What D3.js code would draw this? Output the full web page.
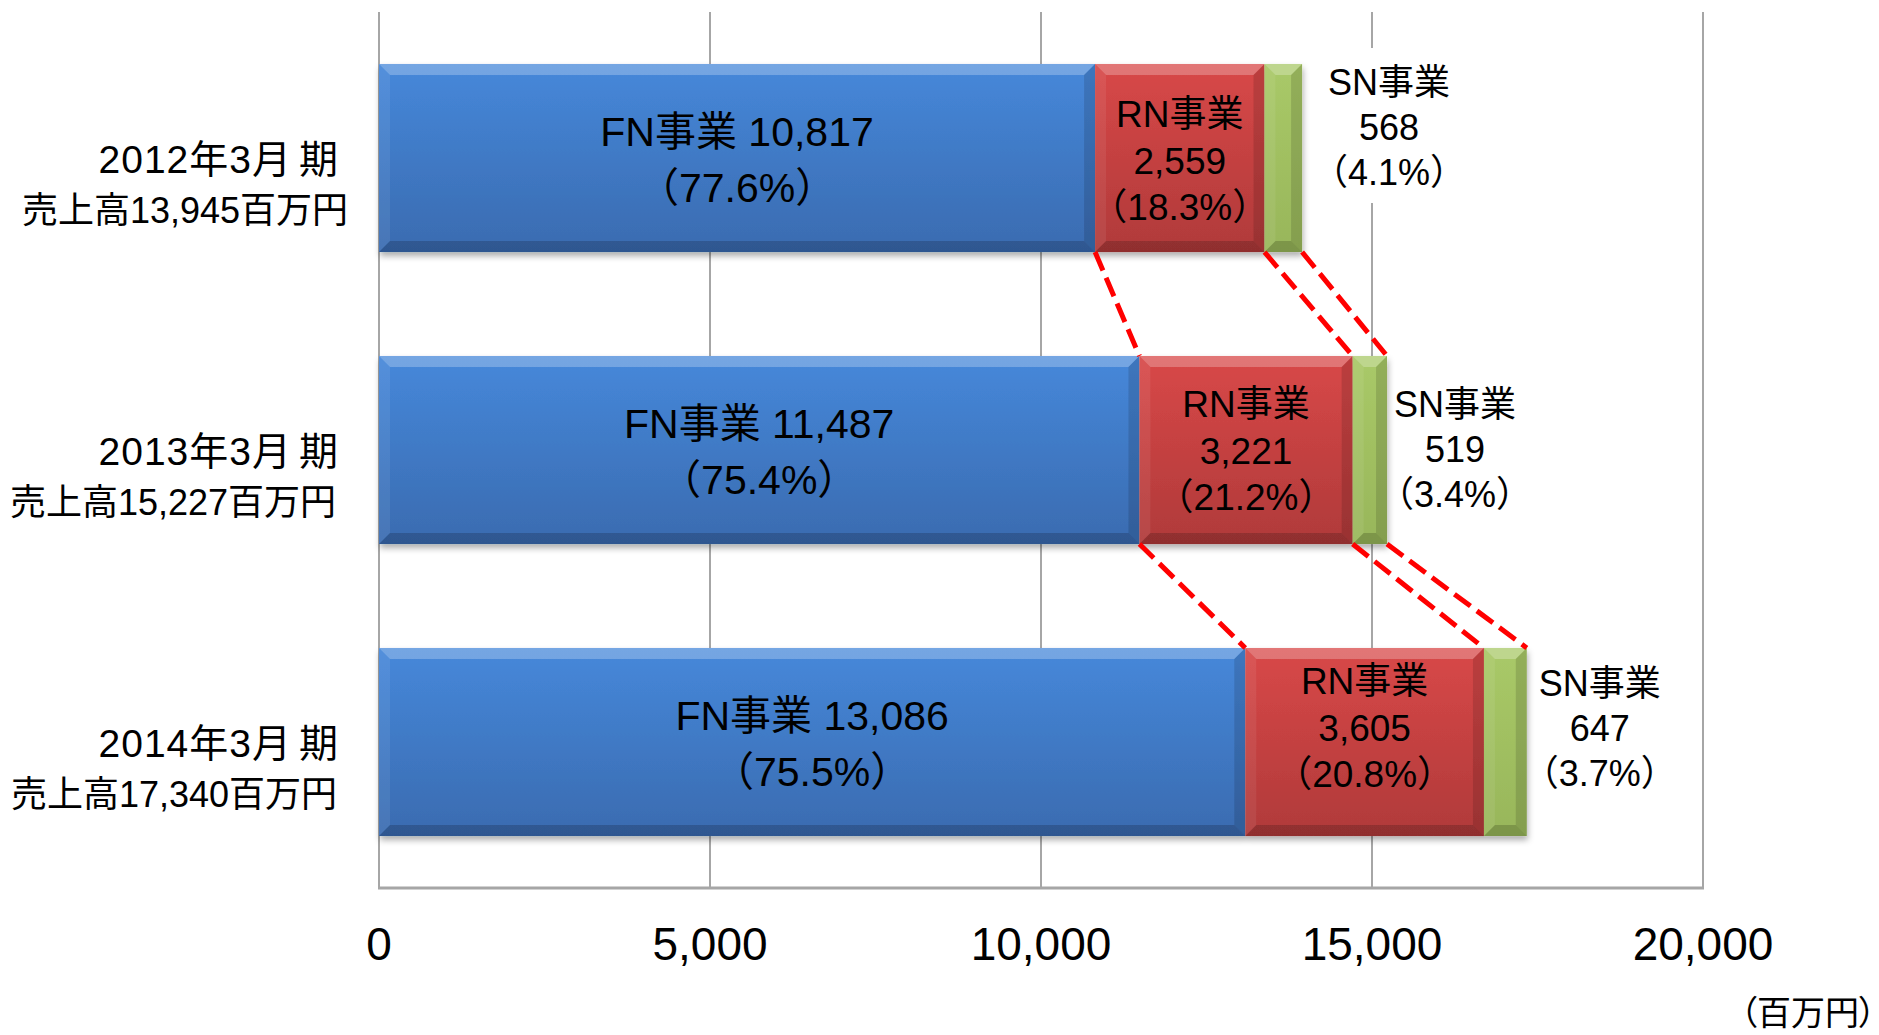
<!DOCTYPE html>
<html>
<head>
<meta charset="utf-8">
<script src="https://cdn.jsdelivr.net/npm/d3@7"></script>
<style>
  html, body { margin: 0; padding: 0; background: #ffffff; }
  svg { display: block; }
  text { font-family: "Liberation Sans", "Noto Sans CJK JP", Arial, sans-serif; fill: #000; }
</style>
</head>
<body>
<svg id="chart" width="1879" height="1035"></svg>
<script>
// ---------- data ----------
const periods = ["2012年3月期", "2013年3月期", "2014年3月期"];
const totals = [13945, 15227, 17340];
const fnValues = [10817, 11487, 13086];
const rnValues = [2559, 3221, 3605];
const snValues = [568, 519, 647];
const fnShares = ["77.6%", "75.4%", "75.5%"];
const rnShares = ["18.3%", "21.2%", "20.8%"];
const snShares = ["4.1%", "3.4%", "3.7%"];
const segmentNames = ["FN事業", "RN事業", "SN事業"];
const tickValues = [0, 5000, 10000, 15000, 20000];
const unitLabel = "（百万円）";

// ---------- layout (hand placed label nudges, as in the reference) ----------
const rnLabelDy = [2, 0, -15];
const snLabelDy = [-30, 0, -13];
const snLabelDx = [87, 68, 73];
const salesLabelRight = [348, 336, 337];

const svg = d3.select("#chart");
const fmt = d3.format(",");

const x = d3.scaleLinear().domain([0, 20000]).range([379, 1703]);
const y = d3.scaleBand().domain(periods).range([12, 888]).paddingInner(0.356).paddingOuter(0.178);

const palette = {
  FN: { top: "#4688da", bottom: "#3a6bb0" },
  RN: { top: "#d84848", bottom: "#b03a3a" },
  SN: { top: "#a9c968", bottom: "#98b65a" }
};

const defs = svg.append("defs");
Object.entries(palette).forEach(([k, c]) => {
  const g = defs.append("linearGradient").attr("id", "grad" + k)
    .attr("x1", 0).attr("y1", 0).attr("x2", 0).attr("y2", 1);
  g.append("stop").attr("offset", "0%").attr("stop-color", c.top);
  g.append("stop").attr("offset", "100%").attr("stop-color", c.bottom);
});
const shadow = defs.append("filter").attr("id", "shadow")
  .attr("x", "-5%").attr("y", "-10%").attr("width", "110%").attr("height", "125%");
shadow.append("feDropShadow").attr("dx", 1).attr("dy", 4).attr("stdDeviation", 3)
  .attr("flood-color", "#000").attr("flood-opacity", 0.32);

// ---------- gridlines ----------
const grid = svg.append("g");
grid.selectAll("line.grid").data(tickValues).join("line")
  .attr("class", "grid")
  .attr("x1", d => x(d)).attr("x2", d => x(d))
  .attr("y1", 12).attr("y2", 888)
  .attr("stroke", "#a6a6a6").attr("stroke-width", 2);
grid.append("line")
  .attr("x1", x(0) - 1).attr("x2", x(20000) + 1)
  .attr("y1", 888).attr("y2", 888)
  .attr("stroke", "#a6a6a6").attr("stroke-width", 3);

// ---------- segments ----------
const rows = periods.map((p, i) => {
  const vals = [fnValues[i], rnValues[i], snValues[i]];
  let acc = 0;
  const segs = vals.map((v, j) => {
    const s = { key: ["FN", "RN", "SN"][j], x0: acc, x1: acc + v, v };
    acc += v;
    return s;
  });
  return { period: p, i, segs };
});

// ---------- SN label backdrops (they hide the gridline) ----------
const backdrop = svg.append("g");

// ---------- bars ----------
const bars = svg.append("g");
rows.forEach(r => {
  const y0 = y(r.period), y1 = y0 + y.bandwidth();
  const g = bars.append("g").attr("filter", "url(#shadow)");
  r.segs.forEach(s => {
    const a = x(s.x0), b = x(s.x1);
    const bv = Math.min(11, (b - a) / 3);
    const sg = g.append("g");
    sg.append("rect").attr("x", a).attr("y", y0).attr("width", b - a).attr("height", y1 - y0)
      .attr("fill", `url(#grad${s.key})`);
    sg.append("polygon")
      .attr("points", [[a, y0], [b, y0], [b - bv, y0 + bv], [a + bv, y0 + bv]].join(" "))
      .attr("fill", "#ffffff").attr("opacity", 0.25);
    sg.append("polygon")
      .attr("points", [[a, y0], [a + bv, y0 + bv], [a + bv, y1 - bv], [a, y1]].join(" "))
      .attr("fill", "#ffffff").attr("opacity", 0.07);
    sg.append("polygon")
      .attr("points", [[b, y0], [b, y1], [b - bv, y1 - bv], [b - bv, y0 + bv]].join(" "))
      .attr("fill", "#000000").attr("opacity", 0.13);
    sg.append("polygon")
      .attr("points", [[a, y1], [b, y1], [b - bv, y1 - bv], [a + bv, y1 - bv]].join(" "))
      .attr("fill", "#000000").attr("opacity", 0.18);
  });
});

// ---------- dashed connectors ----------
const conn = svg.append("g");
for (let i = 0; i < rows.length - 1; i++) {
  const yb = y(rows[i].period) + y.bandwidth();
  const yt = y(rows[i + 1].period);
  rows[i].segs.forEach((s, j) => {
    conn.append("line")
      .attr("x1", x(s.x1)).attr("y1", yb)
      .attr("x2", x(rows[i + 1].segs[j].x1)).attr("y2", yt)
      .attr("stroke", "#ff0000").attr("stroke-width", 5)
      .attr("stroke-dasharray", "20,8");
  });
}

// ---------- labels in bars ----------
const labels = svg.append("g").attr("text-anchor", "middle");
rows.forEach(r => {
  const cy = y(r.period) + y.bandwidth() / 2;
  const [fn, rn, sn] = r.segs;
  const i = r.i;
  const fx = (x(fn.x0) + x(fn.x1)) / 2;
  labels.append("text").attr("x", fx).attr("y", cy - 12).attr("font-size", 41)
    .text(`${segmentNames[0]} ${fmt(fn.v)}`);
  labels.append("text").attr("x", fx).attr("y", cy + 44).attr("font-size", 41)
    .text(`（${fnShares[i]}）`);
  const rx = (x(rn.x0) + x(rn.x1)) / 2;
  const rc = cy + rnLabelDy[i];
  [segmentNames[1], fmt(rn.v), `（${rnShares[i]}）`].forEach((t, k) => {
    labels.append("text").attr("x", rx).attr("y", rc - 33 + k * 46.5).attr("font-size", 37).text(t);
  });
  const sx = x(sn.x1) + snLabelDx[i];
  const sc = cy + snLabelDy[i];
  const snG = labels.append("g");
  [segmentNames[2], fmt(sn.v), `（${snShares[i]}）`].forEach((t, k) => {
    snG.append("text").attr("x", sx).attr("y", sc - 33 + k * 45).attr("font-size", 36).text(t);
  });
  const bb = snG.node().getBBox();
  backdrop.append("rect").attr("x", bb.x - 6).attr("y", bb.y - 14)
    .attr("width", bb.width + 12).attr("height", bb.height + 24).attr("fill", "#ffffff");
});

// ---------- category labels ----------
const cat = svg.append("g").attr("text-anchor", "end");
rows.forEach(r => {
  const cy = y(r.period) + y.bandwidth() / 2;
  const t1 = cat.append("text").attr("x", 338).attr("y", cy + 15).attr("font-size", 39)
    .attr("letter-spacing", 1);
  t1.append("tspan").text(r.period.slice(0, -1));
  t1.append("tspan").attr("dx", 7).attr("letter-spacing", 0).text(r.period.slice(-1));
  cat.append("text").attr("x", salesLabelRight[r.i]).attr("y", cy + 65).attr("font-size", 36)
    .text(`売上高${fmt(totals[r.i])}百万円`);
});

// ---------- x tick labels ----------
svg.append("g").attr("text-anchor", "middle")
  .selectAll("text").data(tickValues).join("text")
  .attr("x", d => x(d)).attr("y", 960).attr("font-size", 46)
  .text(d => fmt(d));

svg.append("text").attr("x", 1876).attr("y", 1025).attr("text-anchor", "end")
  .attr("font-size", 34).style("font-feature-settings", "'palt'")
  .text(unitLabel);
</script>
</body>
</html>
